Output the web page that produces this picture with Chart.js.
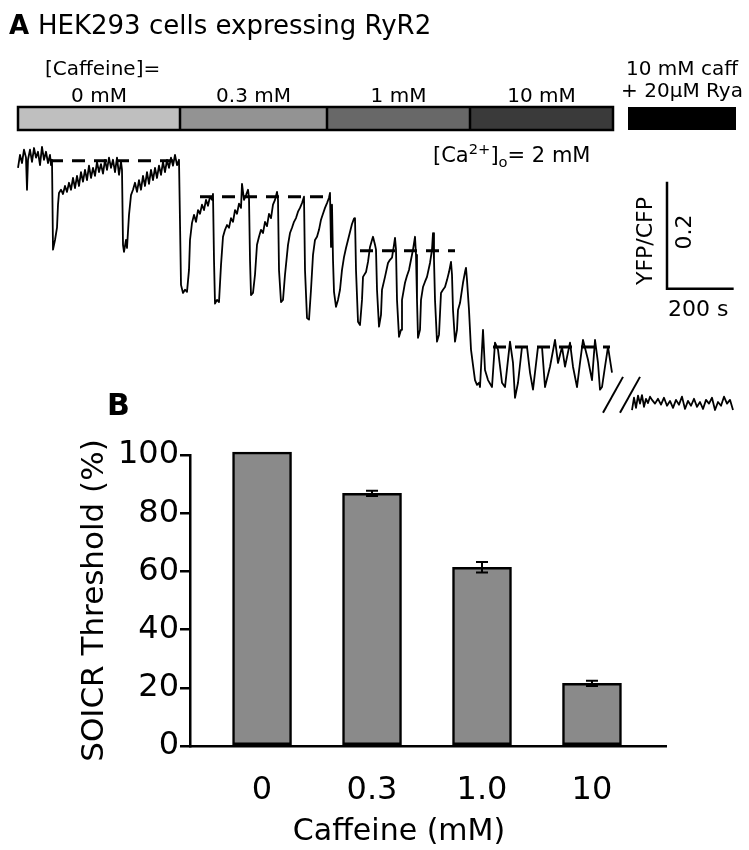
<!DOCTYPE html>
<html>
<head>
<meta charset="utf-8">
<script src="https://cdn.jsdelivr.net/npm/chart.js@4.4.1/dist/chart.umd.min.js"></script>
<style>
  body { margin: 0; background: #fff; }
  #page { position: relative; width: 749px; height: 850px; overflow: hidden; font-family: "DejaVu Sans", sans-serif; color: #000; }
  .t { position: absolute; white-space: nowrap; line-height: 1; }
  .c { transform: translateX(-50%); }
  canvas { position: absolute; left: 0; }
  sup, sub { font-size: 70%; line-height: 0; }
</style>
</head>
<body>
<div id="page">
  <canvas id="trace" width="749" height="430" style="top:0px"></canvas>
  <canvas id="bars" width="749" height="470" style="top:380px"></canvas>

  <div class="t" style="left:9px;top:12px;font-size:26px;font-weight:bold;">A</div>
  <div class="t" style="left:38px;top:12px;font-size:26px;">HEK293 cells expressing RyR2</div>
  <div class="t" style="left:45px;top:58px;font-size:20px;">[Caffeine]=</div>
  <div id="segLabels"></div>
  <div class="t" style="left:433px;top:145px;font-size:21px;">[Ca<sup>2+</sup>]<sub>o</sub>= 2 mM</div>
  <div class="t" style="left:645px;top:241px;font-size:22px;transform:translate(-50%,-50%) rotate(-90deg);">YFP/CFP</div>
  <div class="t" style="left:684px;top:232px;font-size:22px;transform:translate(-50%,-50%) rotate(-90deg);">0.2</div>
  <div class="t" style="left:668px;top:298px;font-size:22px;">200 s</div>

  <div class="t" style="left:107px;top:390px;font-size:30px;font-weight:bold;">B</div>
  <div class="t c" style="left:399px;top:815px;font-size:30px;">Caffeine (mM)</div>
</div>

<script>
// ---- panel A: caffeine protocol ----
const caffeineText = ["0 mM", "0.3 mM", "1 mM", "10 mM"];
const segStart = [0, 486, 927, 1356];          // s
const segEnd = [486, 927, 1356, 1785];         // s
const segColor = ["#bfbfbf", "#939393", "#686868", "#3a3a3a"];
const ryaText = ["10 mM caff", "+ 20\u03bcM Rya"];
const ryaBox = [1830, 2154];                   // s

// ---- panel A: FRET trace (time in s, YFP/CFP ratio) ----
const traceTime = [
  0, 6, 12, 18, 24, 27, 30, 36, 42, 48, 54, 60, 66, 72, 78, 84, 90, 96, 99, 102,
  105, 111, 117, 120, 123, 129, 135, 141, 147, 153, 159, 165, 171, 177, 183, 189, 195, 201, 207, 213,
  219, 225, 231, 237, 243, 249, 255, 261, 267, 273, 279, 285, 291, 297, 303, 309, 312,
  315, 318, 324, 327, 333, 339, 345, 351, 357, 363, 369, 375, 381, 387, 393, 399, 405, 411, 417,
  423, 429, 435, 441, 447, 453, 459, 465, 471, 477, 483,
  489, 495, 501, 507, 513, 516, 522, 528, 534, 540, 546, 552, 558, 564, 570, 576, 582, 585,
  588, 591, 597, 603, 609, 615, 621, 627, 633, 639, 645, 651, 657, 663, 669, 672, 678, 684, 690, 693,
  696, 699, 705, 711, 717, 723, 729, 735, 741, 747, 753, 759, 765, 771, 777, 780,
  783, 789, 795, 801, 810, 816, 822, 828, 834, 840, 846, 852, 858,
  861, 867, 873, 879, 885, 891, 897, 903, 909, 915, 921, 927, 933, 936, 939, 942,
  945, 948, 954, 960, 966, 972, 978, 984, 990, 996, 1002, 1008, 1011,
  1014, 1020, 1026, 1032, 1035, 1044, 1050, 1056, 1062, 1065, 1071, 1074,
  1077, 1083, 1089, 1092, 1101, 1110, 1116, 1122, 1128, 1131, 1134,
  1137, 1143, 1149, 1152, 1161, 1167, 1173, 1179, 1185, 1191, 1194,
  1197, 1200, 1206, 1209, 1215, 1221, 1227, 1236, 1242, 1245, 1248,
  1251, 1257, 1263, 1269, 1275, 1281, 1287, 1293, 1299, 1302,
  1305, 1311, 1317, 1320, 1326, 1332, 1335, 1341, 1344, 1347,
  1353, 1359, 1365, 1371, 1377, 1383, 1386, 1395, 1401, 1410, 1422, 1431, 1440, 1452, 1461,
  1476, 1485, 1491, 1500, 1512, 1527, 1536, 1545, 1560, 1572, 1581, 1596, 1611, 1620, 1632,
  1641, 1656, 1665, 1677, 1686, 1695, 1710, 1722, 1731, 1740, 1746, 1752, 1761, 1770, 1782
];
const traceRatio = [
  1.681, 1.705, 1.690, 1.715, 1.700, 1.640, 1.696, 1.715, 1.692, 1.718, 1.700, 1.711, 1.686, 1.720, 1.696, 1.711, 1.690, 1.705, 1.686, 1.696,
  1.528, 1.546, 1.569, 1.612, 1.634, 1.640, 1.632, 1.647, 1.636, 1.653, 1.640, 1.662, 1.643, 1.666, 1.647, 1.673, 1.655, 1.677, 1.658, 1.685,
  1.662, 1.681, 1.666, 1.692, 1.673, 1.688, 1.670, 1.696, 1.677, 1.700, 1.681, 1.696, 1.673, 1.700, 1.668, 1.692, 1.677,
  1.537, 1.524, 1.546, 1.531, 1.593, 1.630, 1.640, 1.653, 1.636, 1.658, 1.640, 1.666, 1.647, 1.673, 1.651, 1.677, 1.658, 1.681, 1.662,
  1.685, 1.668, 1.692, 1.673, 1.696, 1.681, 1.700, 1.685, 1.705, 1.686, 1.696,
  1.462, 1.447, 1.453, 1.449, 1.490, 1.546, 1.578, 1.593, 1.580, 1.602, 1.595, 1.612, 1.602, 1.621, 1.610, 1.627, 1.621, 1.632,
  1.509, 1.427, 1.434, 1.430, 1.499, 1.552, 1.565, 1.574, 1.569, 1.587, 1.580, 1.602, 1.595, 1.614, 1.606, 1.651, 1.621, 1.630, 1.640, 1.625,
  1.509, 1.443, 1.447, 1.481, 1.537, 1.552, 1.565, 1.559, 1.580, 1.572, 1.595, 1.587, 1.612, 1.621, 1.636, 1.621,
  1.490, 1.430, 1.434, 1.481, 1.537, 1.559, 1.569, 1.580, 1.587, 1.599, 1.606, 1.615, 1.627,
  1.490, 1.400, 1.397, 1.453, 1.518, 1.546, 1.552, 1.565, 1.584, 1.595, 1.606, 1.615, 1.625, 1.634, 1.533, 1.612,
  1.509, 1.449, 1.421, 1.434, 1.453, 1.490, 1.514, 1.531, 1.546, 1.561, 1.576, 1.586, 1.587,
  1.490, 1.393, 1.387, 1.434, 1.477, 1.486, 1.505, 1.533, 1.546, 1.552, 1.537, 1.528,
  1.453, 1.384, 1.406, 1.453, 1.477, 1.503, 1.509, 1.513, 1.537, 1.550, 1.528,
  1.434, 1.365, 1.378, 1.434, 1.466, 1.479, 1.490, 1.509, 1.528, 1.552, 1.518,
  1.434, 1.363, 1.378, 1.434, 1.458, 1.468, 1.477, 1.503, 1.528, 1.559, 1.509,
  1.434, 1.356, 1.369, 1.447, 1.453, 1.458, 1.471, 1.486, 1.505, 1.481,
  1.415, 1.356, 1.378, 1.415, 1.428, 1.453, 1.466, 1.486, 1.494, 1.471,
  1.415, 1.341, 1.312, 1.284, 1.275, 1.279, 1.271, 1.378, 1.303, 1.284, 1.271, 1.354, 1.341, 1.279, 1.271,
  1.356, 1.316, 1.251, 1.279, 1.346, 1.346, 1.298, 1.266, 1.346, 1.346, 1.271, 1.309, 1.359, 1.316, 1.346,
  1.309, 1.354, 1.309, 1.271, 1.316, 1.359, 1.322, 1.284, 1.359, 1.316, 1.266, 1.271, 1.309, 1.346, 1.298
];
// after the break: 10 mM caffeine + 20 uM ryanodine
const ryaTime = [
  1842, 1848, 1854, 1860, 1866, 1872, 1878, 1884, 1890, 1896, 1902, 1911, 1920, 1929, 1938, 1947, 1956, 1965, 1974,
  1983, 1992, 2001, 2010, 2019, 2028, 2037, 2046, 2055, 2064, 2073, 2082, 2091, 2100, 2109, 2118, 2127, 2136, 2145
];
const ryaRatio = [
  1.228, 1.251, 1.232, 1.255, 1.240, 1.256, 1.234, 1.249, 1.241, 1.253, 1.247, 1.240, 1.249, 1.238, 1.251, 1.236, 1.245, 1.232, 1.247,
  1.238, 1.253, 1.230, 1.245, 1.236, 1.249, 1.234, 1.243, 1.230, 1.247, 1.240, 1.251, 1.228, 1.243, 1.236, 1.253, 1.240, 1.247, 1.228
];
// SOICR threshold levels (dashed lines)
const thresholdLevel = [1.694, 1.627, 1.526, 1.346];
const thresholdStart = [96, 546, 1026, 1425];
const thresholdEnd = [480, 921, 1311, 1776];

// scale bar: 200 s, 0.2 ratio
const scaleBarT = 1947, scaleBarR = 1.455, scaleBarDT = 200, scaleBarDR = 0.2;
// break marks (lower end time, ratio range)
const breakMarkT = [1755, 1806];
const breakMarkR = [1.223, 1.290];

// ---- panel B ----
const doseLabels = ["0", "0.3", "1.0", "10"];
const thresholdPct = [101, 86.8, 61.4, 21.5];
const thresholdErr = [0, 0.9, 1.8, 0.9];

Chart.defaults.font.family = '"DejaVu Sans", sans-serif';
Chart.defaults.color = "#000";

const traceDecor = {
  id: "traceDecor",
  afterDraw(chart) {
    const { ctx, scales: { x, y } } = chart;
    ctx.save();
    const top = 107, h = 23;
    segStart.forEach((s, i) => {
      const x0 = x.getPixelForValue(s), x1 = x.getPixelForValue(segEnd[i]);
      ctx.fillStyle = segColor[i];
      ctx.fillRect(x0, top, x1 - x0, h);
    });
    ctx.strokeStyle = "#000";
    ctx.lineWidth = 2.5;
    const bx0 = x.getPixelForValue(segStart[0]), bx1 = x.getPixelForValue(segEnd[segEnd.length - 1]);
    ctx.strokeRect(bx0, top, bx1 - bx0, h);
    segStart.slice(1).forEach(s => {
      const px = x.getPixelForValue(s);
      ctx.beginPath(); ctx.moveTo(px, top); ctx.lineTo(px, top + h); ctx.stroke();
    });
    const rx0 = x.getPixelForValue(ryaBox[0]), rx1 = x.getPixelForValue(ryaBox[1]);
    ctx.fillStyle = "#000";
    ctx.fillRect(rx0, top, rx1 - rx0, h);

    // scale bar
    const cx = x.getPixelForValue(scaleBarT), cy = y.getPixelForValue(scaleBarR);
    ctx.lineWidth = 2.5;
    ctx.beginPath();
    ctx.moveTo(cx, y.getPixelForValue(scaleBarR + scaleBarDR));
    ctx.lineTo(cx, cy);
    ctx.lineTo(x.getPixelForValue(scaleBarT + scaleBarDT), cy);
    ctx.stroke();

    // break marks
    ctx.lineWidth = 2;
    breakMarkT.forEach(t => {
      ctx.beginPath();
      ctx.moveTo(x.getPixelForValue(t), y.getPixelForValue(breakMarkR[0]));
      ctx.lineTo(x.getPixelForValue(t + 60), y.getPixelForValue(breakMarkR[1]));
      ctx.stroke();
    });
    ctx.restore();
  }
};

const lineStyle = { borderColor: "#000", borderWidth: 1.8, pointRadius: 0, tension: 0, clip: false, borderJoinStyle: "round" };

const traceChart = new Chart(document.getElementById("trace"), {
  type: "line",
  data: {
    datasets: [
      { ...lineStyle, data: traceTime.map((t, i) => ({ x: t, y: traceRatio[i] })) },
      { ...lineStyle, data: ryaTime.map((t, i) => ({ x: t, y: ryaRatio[i] })) },
      ...thresholdLevel.map((lv, i) => ({
        ...lineStyle, borderWidth: 3, borderDash: [13, 9],
        data: [{ x: thresholdStart[i], y: lv }, { x: thresholdEnd[i], y: lv }]
      }))
    ]
  },
  options: {
    responsive: false, animation: false, devicePixelRatio: 1,
    layout: { padding: { left: 18, right: 14, top: 140, bottom: 5 } },
    plugins: { legend: { display: false }, tooltip: { enabled: false } },
    scales: {
      x: { type: "linear", min: 0, max: 2151, display: false },
      y: { type: "linear", min: 1.2, max: 1.733, display: false }
    }
  },
  plugins: [traceDecor]
});

// place concentration labels over their bar segments
const xs = traceChart.scales.x;
const labelBox = document.getElementById("segLabels");
caffeineText.forEach((txt, i) => {
  const d = document.createElement("div");
  d.className = "t c";
  d.style.cssText = `left:${(xs.getPixelForValue(segStart[i]) + xs.getPixelForValue(segEnd[i])) / 2}px;top:85px;font-size:20px;`;
  d.textContent = txt;
  labelBox.appendChild(d);
});
ryaText.forEach((txt, i) => {
  const d = document.createElement("div");
  d.className = "t c";
  d.style.cssText = `left:${(xs.getPixelForValue(ryaBox[0]) + xs.getPixelForValue(ryaBox[1])) / 2}px;top:${i === 0 ? 58 : 80}px;font-size:20px;`;
  d.textContent = txt;
  labelBox.appendChild(d);
});

const errorBars = {
  id: "errorBars",
  afterDatasetsDraw(chart) {
    const { ctx, scales: { x, y } } = chart;
    ctx.save();
    ctx.strokeStyle = "#000";
    ctx.lineWidth = 2;
    thresholdPct.forEach((v, i) => {
      if (!thresholdErr[i]) return;
      const px = x.getPixelForValue(i);
      const yHi = y.getPixelForValue(v + thresholdErr[i]), yLo = y.getPixelForValue(v - thresholdErr[i]);
      ctx.beginPath();
      ctx.moveTo(px, yHi); ctx.lineTo(px, yLo);
      ctx.moveTo(px - 6, yHi); ctx.lineTo(px + 6, yHi);
      ctx.moveTo(px - 6, yLo); ctx.lineTo(px + 6, yLo);
      ctx.stroke();
    });
    ctx.restore();
  }
};

new Chart(document.getElementById("bars"), {
  type: "bar",
  data: {
    datasets: [{
      data: thresholdPct.map((v, i) => ({ x: i, y: v })),
      backgroundColor: "#8a8a8a", borderColor: "#000", borderWidth: 2.5,
      borderSkipped: false, barThickness: 59, clip: false
    }]
  },
  options: {
    responsive: false, animation: false, devicePixelRatio: 1,
    layout: { padding: { left: 0, right: 83, top: 75, bottom: 0 } },
    plugins: { legend: { display: false }, tooltip: { enabled: false } },
    scales: {
      x: {
        type: "linear", min: -0.655, max: 3.673, offset: false,
        afterBuildTicks: s => { s.ticks = doseLabels.map((_, i) => ({ value: i })); },
        afterFit: s => { s.height = 104; },
        ticks: { callback: v => doseLabels[v], font: { size: 32 }, color: "#000", padding: 17, maxRotation: 0, autoSkip: false },
        grid: { display: false, offset: false },
        border: { display: true, color: "#000", width: 2.5 }
      },
      y: {
        min: 0, max: 100,
        afterFit: s => { s.width = 190; },
        ticks: { stepSize: 20, font: { size: 32 }, color: "#000", padding: 1 },
        grid: { drawOnChartArea: false, tickLength: 10, color: "#000", lineWidth: 2.5 },
        border: { color: "#000", width: 2.5 },
        title: { display: true, text: "SOICR Threshold (%)", font: { size: 31 }, color: "#000", padding: { top: 76, bottom: 0 } }
      }
    }
  },
  plugins: [errorBars]
});
</script>
</body>
</html>
